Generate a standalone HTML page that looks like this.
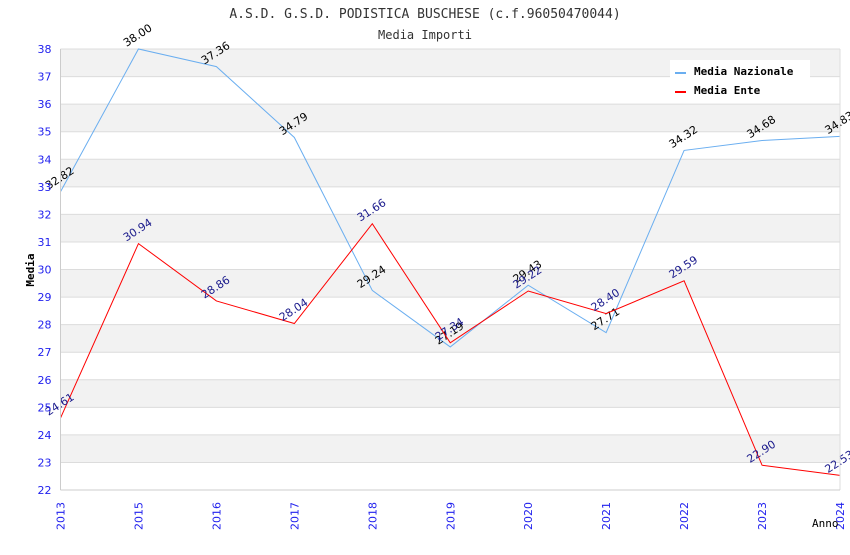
<!DOCTYPE html>
<html><head><meta charset="utf-8"><style>
body{margin:0;background:#fff}
svg text{font-family:"DejaVu Sans Mono","Liberation Mono",monospace}
</style></head><body>
<svg id="chart" width="850" height="550" xmlns="http://www.w3.org/2000/svg">
<text x="425" y="18" text-anchor="middle" font-size="13" fill="#333">A.S.D. G.S.D. PODISTICA BUSCHESE (c.f.96050470044)</text>
<text x="425" y="39" text-anchor="middle" font-size="12" fill="#333">Media Importi</text>
<g id="grid"></g><g id="series"></g><g id="axes"></g>
<text x="34" y="270" transform="rotate(-90 34 270)" text-anchor="middle" font-size="11" font-weight="bold" fill="#000">Media</text>
<text x="812" y="527" font-size="11" fill="#000">Anno</text>
<g>
<rect x="670" y="60" width="140" height="42" fill="#fff"/>
<line x1="675" y1="73" x2="686" y2="73" stroke="#6aaef0" stroke-width="2"/>
<text x="694" y="75" font-size="11" font-weight="bold" fill="#000">Media Nazionale</text>
<line x1="675" y1="92" x2="686" y2="92" stroke="#ff0000" stroke-width="2"/>
<text x="694" y="94" font-size="11" font-weight="bold" fill="#000">Media Ente</text>
</g>
</svg>
<script>
const categories=["2013","2015","2016","2017","2018","2019","2020","2021","2022","2023","2024"];
const nazionale=[32.82,38.00,37.36,34.79,29.24,27.19,29.43,27.71,34.32,34.68,34.83];
const ente=[24.61,30.94,28.86,28.04,31.66,27.34,29.22,28.40,29.59,22.90,22.53];
const yTicks=[22,23,24,25,26,27,28,29,30,31,32,33,34,35,36,37,38];
const NS="http://www.w3.org/2000/svg";
const L=60.5,R=840,T=49,B=490,yMin=22,yMax=38;
const xs=i=>L+i*(R-L)/(categories.length-1);
const ys=v=>B-(v-yMin)*(B-T)/(yMax-yMin);
function mk(tag,attrs,parent){const e=document.createElementNS(NS,tag);for(const k in attrs)e.setAttribute(k,attrs[k]);parent.appendChild(e);return e;}
const grid=document.getElementById('grid'),axes=document.getElementById('axes'),ser=document.getElementById('series');
for(let i=0;i<yTicks.length-1;i++){
 const v=yTicks[i];
 if((yMax-yTicks[i+1])%2===0){const r=mk('rect',{x:L,y:ys(yTicks[i+1]),width:R-L,height:ys(v)-ys(yTicks[i+1]),fill:'#f2f2f2'},grid);
 
 }
}
yTicks.forEach(v=>{
 const l=mk('line',{x1:L,x2:R,y1:ys(v),y2:ys(v),stroke:'#dcdcdc'},grid);
 
 
 const t=mk('text',{x:L-9,y:ys(v)+4,'text-anchor':'end','font-size':11,fill:'#2222ee',style:'font-family:"DejaVu Sans",sans-serif'},axes);
 t.textContent=v;
 
 
});
mk('line',{x1:L,x2:L,y1:T,y2:B,stroke:'#ccc'},axes);
mk('line',{x1:R,x2:R,y1:T,y2:B,stroke:'#ddd'},axes);
mk('line',{x1:L,x2:R,y1:B,y2:B,stroke:'#ccc'},axes);
categories.forEach((c,i)=>{
 const x=xs(i)+4;
 const t=mk('text',{x:x,y:530,transform:`rotate(-90 ${x} 530)`,'font-size':11,fill:'#2222ee',style:'font-family:"DejaVu Sans",sans-serif'},axes);
 t.textContent=c;
 
 
});
function drawSeries(data,color,labelColor,name){
 const p=mk('polyline',{points:data.map((v,i)=>xs(i)+','+ys(v)).join(' '),fill:'none',stroke:color,'stroke-width':1},ser);
 
 
 data.forEach((v,i)=>{
  const x=xs(i)-12,y=ys(v)-2;
  const t=mk('text',{x:x,y:y,transform:`rotate(-33 ${x} ${y})`,'font-size':11,fill:labelColor,style:'font-family:"DejaVu Sans",sans-serif'},ser);
  t.textContent=v.toFixed(2);
  
  
 });
}
drawSeries(nazionale,'#6aaef0','#000','nazionale');
drawSeries(ente,'#ff0000','#1a1a8c','ente');
</script>
</body></html>
